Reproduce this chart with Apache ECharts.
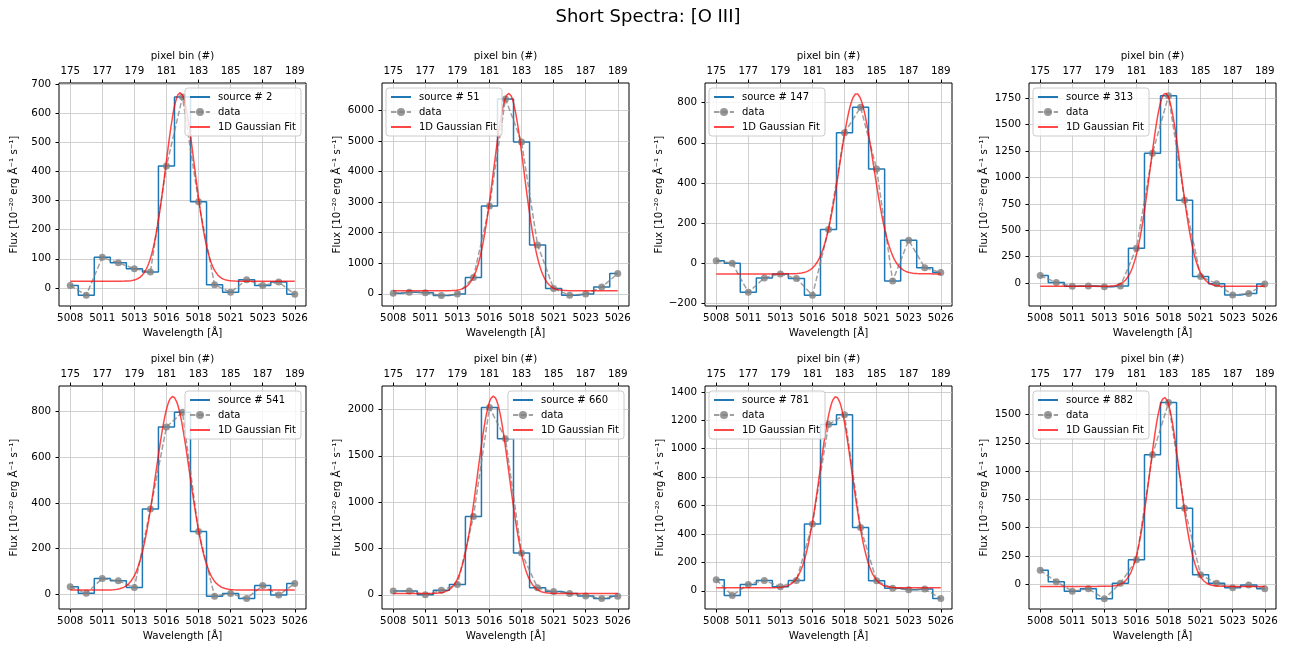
<!DOCTYPE html>
<html>
<head>
<meta charset="utf-8">
<script src="https://cdn.jsdelivr.net/npm/echarts@6/dist/echarts.min.js"></script>
<style>
  html, body { margin: 0; padding: 0; background: #fff; }
  #chart { width: 1296px; height: 650px; }
</style>
</head>
<body>
<div id="chart"></div>
<script>
// pixel bins (x of every point) and the tick labels of both x axes
const pixelBins = [175, 176, 177, 178, 179, 180, 181, 182, 183, 184, 185, 186, 187, 188, 189];
const pixelTicks = [175, 177, 179, 181, 183, 185, 187, 189];
const wavelengthLabels = ['5008', '5011', '5013', '5016', '5018', '5021', '5023', '5026'];

const sourceIds = [2, 51, 147, 313, 541, 660, 781, 882];

// flux per source, one value per pixel bin
const flux2   = [8, -25, 105, 86, 66, 55, 418, 655, 296, 11, -15, 28, 8, 20, -22];
const flux51  = [20, 50, 30, -60, -10, 535, 2870, 6380, 4970, 1600, 170, -50, -5, 220, 660];
const flux147 = [12, 0, -145, -73, -53, -76, -160, 168, 650, 777, 470, -88, 115, -22, -46];
const flux313 = [70, 5, -32, -28, -35, -28, 330, 1230, 1775, 785, 62, -8, -113, -100, -10];
const flux541 = [32, 3, 68, 58, 28, 373, 733, 798, 274, -10, 2, -20, 37, -5, 46];
const flux660 = [40, 40, 0, 48, 110, 845, 2020, 1685, 450, 75, 35, 15, -12, -40, -15];
const flux781 = [78, -33, 45, 73, 28, 72, 470, 1170, 1238, 445, 70, 18, 8, 12, -55];
const flux882 = [122, 22, -62, -42, -130, 8, 215, 1145, 1605, 672, 82, 8, -33, -8, -40];
const fluxes = [flux2, flux51, flux147, flux313, flux541, flux660, flux781, flux882];

// fitted 1D Gaussian parameters (in pixel-bin units)
const fitAmp    = [647, 6460, 898, 1830, 850, 2130, 1345, 1670];
const fitCenter = [181.85, 182.2, 183.75, 182.8, 181.39, 181.24, 182.46, 182.75];
const fitSigma  = [0.9, 0.95, 1.05, 0.95, 1.05, 0.98, 1.0, 0.92];
const fitOffset = [23, 100, -53, -32, 17, 14, 21, -20];

// y axis limits and ticks
const yMin = [-62, -400, -213, -218, -66, -153, -128, -220];
const yMax = [703, 6900, 898, 1895, 913, 2253, 1441, 1752];
const yTicks = [
  [0, 100, 200, 300, 400, 500, 600, 700],
  [0, 1000, 2000, 3000, 4000, 5000, 6000],
  [-200, 0, 200, 400, 600, 800],
  [0, 250, 500, 750, 1000, 1250, 1500, 1750],
  [0, 200, 400, 600, 800],
  [0, 500, 1000, 1500, 2000],
  [0, 200, 400, 600, 800, 1000, 1200, 1400],
  [0, 250, 500, 750, 1000, 1250, 1500]
];

const gridLefts = [59, 382, 705, 1029];
const gridTops = [83, 386];
const gridW = 247, gridH = 223;
const legendSide = ['right', 'left', 'left', 'left', 'right', 'right', 'left', 'left'];

const FONT = 'DejaVu Sans';
const txt = { color: '#000', fontFamily: FONT, fontSize: 10.3 };

function gaussCurve(i) {
  const pts = [];
  const n = 200;
  for (let k = 0; k <= n; k++) {
    const x = pixelBins[0] + (pixelBins[pixelBins.length - 1] - pixelBins[0]) * k / n;
    const d = x - fitCenter[i];
    pts.push([x, fitOffset[i] + fitAmp[i] * Math.exp(-d * d / (2 * fitSigma[i] * fitSigma[i]))]);
  }
  return pts;
}

const grids = [], xAxes = [], yAxes = [], series = [], legends = [];

sourceIds.forEach((id, i) => {
  const col = i % 4, row = Math.floor(i / 4);
  const left = gridLefts[col], top = gridTops[row];
  grids.push({
    left: left, top: top, width: gridW, height: gridH,
    show: true, borderColor: '#000', borderWidth: 1, backgroundColor: 'transparent'
  });
  const xCommon = {
    type: 'value', gridIndex: i, min: 174.3, max: 189.7,
    axisLine: { show: false, onZero: false },
    axisTick: { show: true, length: 3.5, customValues: pixelTicks, lineStyle: { color: '#000' } },
    nameLocation: 'middle', nameTextStyle: txt
  };
  xAxes.push(Object.assign({}, xCommon, {
    position: 'bottom', name: 'Wavelength [Å]', nameGap: 22,
    axisLabel: Object.assign({}, txt, {
      margin: 7, customValues: pixelTicks,
      formatter: v => wavelengthLabels[pixelTicks.indexOf(Math.round(v))]
    }),
    splitLine: { show: true, lineStyle: { color: '#c4c4c4', width: 0.8 } }
  }));
  xAxes.push(Object.assign({}, xCommon, {
    position: 'top', name: 'pixel bin (#)', nameGap: 22,
    axisLabel: Object.assign({}, txt, { margin: 7, customValues: pixelTicks }),
    splitLine: { show: false }
  }));
  yAxes.push({
    type: 'value', gridIndex: i, min: yMin[i], max: yMax[i],
    axisLine: { show: false, onZero: false },
    axisTick: { show: true, length: 3.5, customValues: yTicks[i], lineStyle: { color: '#000' } },
    axisLabel: Object.assign({}, txt, {
      margin: 8, customValues: yTicks[i],
      formatter: v => String(v).replace('-', '\u2212')
    }),
    splitLine: { show: true, lineStyle: { color: '#c4c4c4', width: 0.8 } },
    name: 'Flux [10\u207B\u00B2\u2070 erg \u00C5\u207B\u00B9 s\u207B\u00B9]',
    nameLocation: 'middle', nameGap: 40, nameRotate: 90, nameTextStyle: txt
  });

  const srcName = 'source # ' + id;
  series.push({
    type: 'line', name: srcName, xAxisIndex: 2 * i, yAxisIndex: i,
    step: 'middle', symbol: 'none',
    lineStyle: { color: '#1f77b4', width: 1.5 }, itemStyle: { color: '#1f77b4' },
    data: pixelBins.map((p, k) => [p, fluxes[i][k]]), z: 2
  });
  series.push({
    type: 'line', name: 'data', xAxisIndex: 2 * i, yAxisIndex: i,
    symbol: 'circle', symbolSize: 7, showSymbol: true,
    lineStyle: { color: 'rgba(128,128,128,0.75)', width: 1.5, type: [5.5, 2.4] },
    itemStyle: { color: 'rgba(128,128,128,0.8)' },
    data: pixelBins.map((p, k) => [p, fluxes[i][k]]), z: 3
  });
  series.push({
    type: 'line', name: '1D Gaussian Fit', xAxisIndex: 2 * i, yAxisIndex: i,
    symbol: 'none', smooth: false,
    lineStyle: { color: 'rgba(255,0,0,0.72)', width: 1.5 }, itemStyle: { color: 'rgba(255,0,0,0.72)' },
    data: gaussCurve(i), z: 4
  });

  const lg = {
    orient: 'vertical', top: top + 5,
    padding: [4, 5, 4, 4], itemWidth: 20, itemHeight: 10, itemGap: 5,
    backgroundColor: 'rgba(255,255,255,0.8)', borderColor: '#cccccc', borderWidth: 1, borderRadius: 3,
    textStyle: { color: '#000', fontFamily: FONT, fontSize: 10, padding: [0, 0, 0, 3] },
    selectedMode: false, z: 10,
    data: [
      { name: srcName, itemStyle: { opacity: 0 } },
      { name: 'data' },
      { name: '1D Gaussian Fit', itemStyle: { opacity: 0 } }
    ]
  };
  if (legendSide[i] === 'right') lg.right = 1296 - (left + gridW - 5);
  else lg.left = left + 4;
  legends.push(lg);
});

const chart = echarts.init(document.getElementById('chart'));
chart.setOption({
  animation: false,
  backgroundColor: '#fff',
  title: {
    text: 'Short Spectra: [O III]', left: 'center', top: 3,
    textStyle: { fontFamily: FONT, fontSize: 18, fontWeight: 'normal', color: '#000' }
  },
  legend: legends,
  grid: grids,
  xAxis: xAxes,
  yAxis: yAxes,
  series: series
});
</script>
</body>
</html>
